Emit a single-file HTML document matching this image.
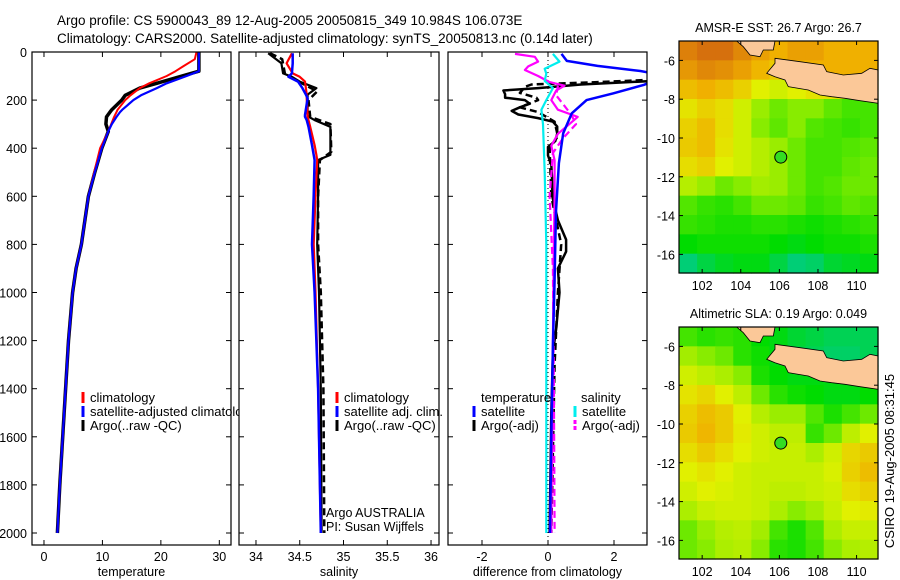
<!DOCTYPE html>
<html><head><meta charset="utf-8"><style>
html,body{margin:0;padding:0;background:#fff;}
svg{display:block;font-family:"Liberation Sans",sans-serif;}
</style></head><body>
<svg id="fig" width="900" height="580" viewBox="0 0 900 580" xmlns="http://www.w3.org/2000/svg">
<text x="57" y="25" font-size="13.5">Argo profile: CS 5900043_89 12-Aug-2005 20050815_349 10.984S 106.073E</text>
<text x="57" y="43" font-size="13.5">Climatology: CARS2000. Satellite-adjusted climatology: synTS_20050813.nc (0.14d later)</text>
<g id="g"></g>
<text transform="translate(894,461) rotate(-90)" text-anchor="middle" font-size="13">CSIRO 19-Aug-2005 08:31:45</text>
</svg>
<script>
// ---- depth data (m) ----
const tDepth=[0,30,60,80,100,130,150,180,200,240,250,270,300,330,400,500,600,700,800,900,1000,1200,1400,1600,1800,2000];
const tClim=[26.1,25.8,23.8,22.5,21,18,16.4,14.8,13.9,12.6,12.4,12,11.5,11,9.6,8.6,7.6,7,6.4,5.5,4.9,4.2,3.7,3.2,2.7,2.3];
const tSat=[26.5,26.5,26.5,26.5,24.4,21,19.3,16.6,15.3,13.4,13,12.4,11.6,11,9.9,8.7,7.6,7,6.4,5.5,4.9,4.2,3.7,3.2,2.7,2.3];
const tArgo=[26.5,26.5,26.5,26.5,23.6,19.3,16.4,13.9,13.3,11.6,11.3,10.7,10.6,11,9.9,8.7,7.6,7,6.4,5.5,4.9,4.2,3.7,3.2,2.7,2.3];

const sDepth=[5,47,89,103,123,150,177,193,262,269,283,311,387,428,449,595,800,1000,1400,2000];
const sClim=[34.41,34.35,34.42,34.5,34.56,34.57,34.58,34.58,34.59,34.59,34.6,34.62,34.67,34.69,34.7,34.68,34.66,34.68,34.71,34.74];
const sSat=[34.42,34.42,34.41,34.37,34.48,34.53,34.57,34.59,34.56,34.56,34.58,34.6,34.64,34.66,34.67,34.66,34.64,34.67,34.71,34.74];
const sArgo=[34.14,34.29,34.31,34.41,34.5,34.69,34.59,34.59,34.59,34.6,34.67,34.85,34.85,34.85,34.71,34.71,34.7,34.72,34.74,34.75];
const sArgoRawDepth=[5,30,90,110,164,200,270,300,415,449,600,800,1000,1400,2000];
const sArgoRaw=[34.16,34.3,34.33,34.42,34.7,34.6,34.62,34.85,34.86,34.73,34.71,34.71,34.74,34.77,34.78];

const dBlueDepth=[8,37,58,79,100,137,172,200,255,338,462,670,947,1224,1600,2000];
const dBlue=[0.41,0.57,1.5,2.8,3.6,2.9,1.97,1.17,0.72,0.46,0.33,0.24,0.2,0.15,0.1,0.06];
const dBlackDepth=[120,135,150,160,175,190,200,215,230,245,260,275,290,310,340,370,395,430,470,520,600,700,780,830,900,1000,1150,1250,1500,2000];
const dBlack=[3.2,1.0,-0.3,-1.35,-1.3,-1.3,-0.7,-0.55,-0.85,-1.1,-0.9,-0.3,0.15,0.28,0.28,0.22,0.0,0.0,0.1,0.12,0.13,0.3,0.55,0.55,0.3,0.35,0.25,0.15,0.1,0.05];
const dBlackRawDepth=[115,125,135,145,170,190,200,230,250,290,350,400,600,800,1000,1300,2000];
const dBlackRaw=[3.2,1.5,-0.5,-0.7,-0.85,-0.35,-0.3,-0.85,-0.3,0.2,0.3,0.05,0.1,0.4,0.3,0.2,0.1];
const dMagDepth=[8,20,40,60,75,100,125,140,160,200,240,270,300,340,390,450,600,800,1200,2000];
const dMag=[-1.0,-0.4,-0.3,-0.6,-0.7,-0.3,0.05,0.5,0.25,0.1,0.3,0.9,0.65,0.3,0.1,0.2,0.2,0.18,0.15,0.1];
const dMagRawDepth=[140,180,260,300,360,420,600,900,1400,2000];
const dMagRaw=[0.3,0.25,0.7,0.85,0.45,0.15,0.05,0.15,0.18,0.2];
const dCyanDepth=[8,40,70,90,120,150,200,240,300,500,800,1200,2000];
const dCyan=[0.15,0.35,-0.1,-0.05,-0.1,0.15,-0.05,-0.2,-0.15,-0.1,-0.05,-0.05,-0.05];

const depthTicks=[0,200,400,600,800,1000,1200,1400,1600,1800,2000];
const tTicks=[0,10,20,30];
const sTicks=[34,34.5,35,35.5,36];
const dTicks=[-2,0,2];

// ---- map grids (colour index 0 teal .. 5 dark orange), rows north->south ----
const sstGrid=[
[4.6,4.8,4.8,4.5,4.2,4,4.2,4.2,4,4,4],
[4.3,4.5,4.4,4.2,3.9,3.6,4,4,4,4,4],
[3.8,4,3.8,3.5,3,2.8,3,3.2,3.2,3.3,3],
[3.2,3.5,3.3,2.8,2.2,1.8,2,2,1.7,1.5,1.5],
[3.5,3.8,3.3,2.8,2,1.7,2,1.6,1.5,1.4,1.5],
[3.6,3.8,3.2,2.8,2.5,2.2,1.8,1.5,1.5,1.6,1.7],
[3.3,3.5,3,2.8,2.5,2.2,1.8,1.5,1.5,1.7,1.8],
[2.5,2.2,1.8,2.0,2.3,2.2,1.8,1.5,1.6,1.8,1.8],
[1.6,1.4,1.3,1.5,1.8,1.8,1.7,1.4,1.5,1.7,1.6],
[1.4,1.3,1.2,1.2,1.3,1.3,1.2,1.1,1.2,1.3,1.4],
[1,1.1,1.1,1.1,1.1,1,0.9,1,1.1,1.1,1.2],
[0.3,0.6,0.8,0.9,0.9,0.6,0.3,0.4,0.7,0.8,0.9]];
const slaGrid=[
[1.5,1.3,1.4,1.3,1.0,0.9,0.7,0.6,0.5,0.5,0.5],
[2.3,2.0,1.8,1.3,1.1,0.9,0.6,0.5,0.4,0.4,0.5],
[2.8,2.6,2.4,2.0,1.2,1.0,0.9,0.9,0.9,0.9,0.9],
[3.2,3.4,3,2.6,1.8,1.3,1.1,1.0,0.9,0.9,1.0],
[3.5,3.8,3.6,3.0,2.5,2.2,2.2,1.6,1.2,1.5,1.8],
[3.6,3.9,3.6,3.1,2.8,2.6,2.6,1.4,1.8,2.6,3.0],
[3.3,3.6,3.3,3.0,2.8,2.7,2.7,2.4,2.8,3.4,3.6],
[3.0,3.2,3.0,2.8,2.7,2.7,2.7,2.7,2.9,3.5,3.8],
[2.8,3.0,2.9,2.8,2.7,2.6,2.6,2.7,2.8,3.3,3.5],
[2.4,2.7,2.8,2.8,2.7,2.4,2.0,2.3,2.7,3.0,3.1],
[1.8,2.2,2.5,2.6,2.3,1.5,1.2,1.6,2.4,2.7,2.7],
[1.8,2.0,2.4,2.5,2.0,1.3,1.2,1.5,2.0,2.4,2.5]];
const lonTicks=[102,104,106,108,110];
const latTicks=[-6,-8,-10,-12,-14,-16];
const argoLon=106.073, argoLat=-10.984;

const NS='http://www.w3.org/2000/svg';
const G=document.getElementById('g');
function mk(tag,attrs,parent){const e=document.createElementNS(NS,tag);for(const k in attrs)e.setAttribute(k,attrs[k]);(parent||G).appendChild(e);return e;}
function yD(d){return 52+d*0.2405;}

function panel(name,x0,x1,dmin,dmax,ticks,title,showY){
  const sx=v=>x0+(v-dmin)/(dmax-dmin)*(x1-x0);
  const g=mk('g',{});
  
  
  const cid='clip-'+name;
  const cp=mk('clipPath',{id:cid},g);mk('rect',{x:x0,y:52,width:x1-x0,height:493},cp);
  const bg=mk('rect',{x:x0,y:52,width:x1-x0,height:493,fill:'#fff',stroke:'none'},g);
  
  
  const lines=mk('g',{'clip-path':'url(#'+cid+')'},g);
  ticks.forEach(t=>{const x=sx(t);
    mk('line',{x1:x,x2:x,y1:545,y2:540,stroke:'#000'},g);
    mk('line',{x1:x,x2:x,y1:52,y2:57,stroke:'#000'},g);
    const tl=mk('text',{x:x,y:561,'font-size':12.5,'text-anchor':'middle'},g);tl.textContent=String(t);
    
    
  });
  depthTicks.forEach(d=>{const y=yD(d);
    mk('line',{x1:x0,x2:x0+5,y1:y,y2:y,stroke:'#000'},g);
    mk('line',{x1:x1,x2:x1-5,y1:y,y2:y,stroke:'#000'},g);
    if(showY){const tl=mk('text',{x:x0-5,y:y+5,'font-size':12.5,'text-anchor':'end'},g);tl.textContent=String(d);
      
      }
  });
  mk('rect',{x:x0,y:52,width:x1-x0,height:493,fill:'none',stroke:'#000','stroke-width':1.2},g);
  const tt=mk('text',{x:(x0+x1)/2,y:576,'font-size':12.5,'text-anchor':'middle'},g);tt.textContent=title;
  
  
  return {g,lines,sx};
}
function series(p,name,depths,vals,color,w,dash){
  const pts=depths.map((d,i)=>p.sx(vals[i]).toFixed(1)+','+yD(d).toFixed(1)).join(' ');
  const e=mk('polyline',{points:pts,fill:'none',stroke:color,'stroke-width':w,'stroke-linejoin':'round'},p.lines);
  if(dash)e.setAttribute('stroke-dasharray',dash);
  
  
}
function legend(g,x,y,color,label,w,dash){
  const l=mk('line',{x1:x,x2:x,y1:y-10,y2:y+1,stroke:color,'stroke-width':w||3},g);
  if(dash)l.setAttribute('stroke-dasharray',dash);
  
  
  if(label){const t=mk('text',{x:x+7,y:y,'font-size':13},g);t.textContent=label;
  
  }
}

// Panel 1 temperature
const p1=panel('temperature-panel',32,231,-2.05,32.0,tTicks,'temperature',true);
series(p1,'temp-argo-raw',tDepth,tArgo,'#000',3.5);
series(p1,'temp-climatology',tDepth,tClim,'#f00',2);
series(p1,'temp-satellite-adjusted',tDepth,tSat,'#00f',2.2);
legend(p1.g,83,402,'#f00','climatology');
legend(p1.g,83,416,'#00f','satellite-adjusted climatology');
legend(p1.g,83,430,'#000','Argo(..raw -QC)');
// Panel 2 salinity
const p2=panel('salinity-panel',239,439,33.806,36.091,sTicks,'salinity',false);
series(p2,'sal-argo-raw',sArgoRawDepth,sArgoRaw,'#000',2.5,'7,4');
series(p2,'sal-argo',sDepth,sArgo,'#000',2.2);
series(p2,'sal-climatology',sDepth,sClim,'#f00',2.2);
series(p2,'sal-satellite-adjusted',sDepth,sSat,'#00f',2.5);
legend(p2.g,337,402,'#f00','climatology');
legend(p2.g,337,416,'#00f','satellite adj. clim.');
legend(p2.g,337,430,'#000','Argo(..raw -QC)');
[['Argo AUSTRALIA',517,'argo-program-label'],['PI: Susan Wijffels',531,'pi-label']].forEach(a=>{
  const t=mk('text',{x:326,y:a[1],'font-size':12.5},p2.g);t.textContent=a[0];
  
  });
// Panel 3 differences
const p3=panel('difference-panel',448,647,-3.03,3.0,dTicks,'difference from climatology',false);
mk('line',{x1:p3.sx(0),x2:p3.sx(0),y1:52,y2:545,stroke:'#000','stroke-dasharray':'1,3'},p3.lines);
series(p3,'diff-temp-argo-raw',dBlackRawDepth,dBlackRaw,'#000',2.5,'7,4');
series(p3,'diff-temp-argo',dBlackDepth,dBlack,'#000',2.5);
series(p3,'diff-sal-argo-raw',dMagRawDepth,dMagRaw,'#f0f',2.2,'7,4');
series(p3,'diff-sal-argo',dMagDepth,dMag,'#f0f',2.2);
series(p3,'diff-sal-satellite',dCyanDepth,dCyan,'#0ee',2.2);
series(p3,'diff-temp-satellite',dBlueDepth,dBlue,'#00f',2.5);
{const t=mk('text',{x:481,y:402,'font-size':13},p3.g);t.textContent='temperature';
 
 const s=mk('text',{x:581,y:402,'font-size':13},p3.g);s.textContent='salinity';
 }
legend(p3.g,474,416,'#00f','satellite');
legend(p3.g,474,430,'#000','Argo(-adj)');
legend(p3.g,575,416,'#0ee','satellite');
legend(p3.g,575,430,'#f0f','Argo(-adj)',3,'4,2');

// ---- maps ----
const stops=[[0,[0,200,168]],[1,[0,220,0]],[2,[136,236,0]],[3,[225,240,0]],[4,[240,176,0]],[5,[208,96,16]]];
function col(v){v=Math.max(0,Math.min(5,v));for(let i=0;i<5;i++){const a=stops[i],b=stops[i+1];if(v<=b[0]){const f=(v-a[0]);const c=a[1].map((q,k)=>Math.round(q+(b[1][k]-q)*f));return 'rgb('+c.join(',')+')';}}return 'rgb(208,96,16)';}
const sumatra=[[57.7,0],[96,0],[94.3,9],[84.3,9],[81,15.7],[71,14],[64.3,5.7]];
const java=[[96,17.3],[121,20.7],[144.3,24],[147.7,30.7],[164.3,34],[182.7,32.3],[191,27.3],[199,29],[199,62.3],[181,59.7],[166,57.3],[152.7,55.7],[141,54],[129.3,49],[109.3,45.7],[106,39],[96,35.7],[87.7,32.3],[96,22.3]];
function map(name,top,grid,title){
  const x0=679,w=199,h=232;
  const lonMin=100.8,lonMax=111.11,latMax=-5.0,latMin=-16.96;
  const sx=lon=>x0+(lon-lonMin)/(lonMax-lonMin)*w, sy=lat=>top+(latMax-lat)/(latMax-latMin)*h;
  const g=mk('g',{});
  
  
  const rows=grid.length,cols=grid[0].length,cw=w/cols,ch=h/rows;
  grid.forEach((r,i)=>r.forEach((v,j)=>{
    const c=mk('rect',{x:(x0+j*cw).toFixed(2),y:(top+i*ch).toFixed(2),width:(cw+0.6).toFixed(2),height:(ch+0.6).toFixed(2),fill:col(v)},g);
    
    
  }));
  [sumatra,java].forEach(poly=>{
    const l=mk('polygon',{points:poly.map(p=>(x0+p[0])+','+(top+p[1])).join(' '),fill:'#fbc898',stroke:'#000','stroke-width':0.8},g);
    
    
  });
  const m=mk('circle',{cx:sx(argoLon),cy:sy(argoLat),r:6,fill:'#33dd22',stroke:'#000','stroke-width':1},g);
  
  
  mk('rect',{x:x0,y:top,width:w,height:h,fill:'none',stroke:'#000','stroke-width':1.2},g);
  lonTicks.forEach(l=>{const x=sx(l);
    mk('line',{x1:x,x2:x,y1:top+h,y2:top+h-4,stroke:'#000'},g);
    mk('line',{x1:x,x2:x,y1:top,y2:top+4,stroke:'#000'},g);
    const t=mk('text',{x:x,y:top+h+17,'font-size':12.5,'text-anchor':'middle'},g);t.textContent=String(l);
    
    });
  latTicks.forEach(l=>{const y=sy(l);
    mk('line',{x1:x0,x2:x0+4,y1:y,y2:y,stroke:'#000'},g);
    mk('line',{x1:x0+w,x2:x0+w-4,y1:y,y2:y,stroke:'#000'},g);
    const t=mk('text',{x:x0-4,y:y+5,'font-size':12.5,'text-anchor':'end'},g);t.textContent=String(l);
    
    });
  const tt=mk('text',{x:x0+w/2,y:top-9,'font-size':12.5,'text-anchor':'middle'},g);tt.textContent=title;
  
  
}
map('sst-map',41,sstGrid,'AMSR-E SST: 26.7 Argo: 26.7');
map('sla-map',327,slaGrid,'Altimetric SLA: 0.19 Argo: 0.049');
</script>
</body></html>
